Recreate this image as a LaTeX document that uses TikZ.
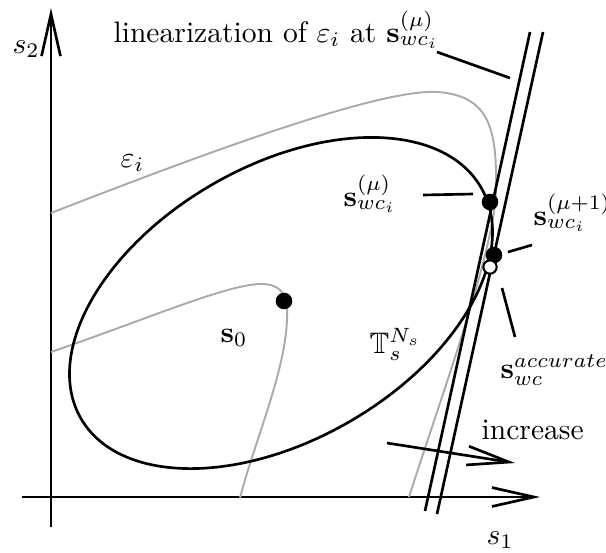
\documentclass[tikz,border=0pt]{standalone}
\usepackage{amsmath,amssymb}
\usetikzlibrary{arrows.meta}
\definecolor{curvegray}{RGB}{170,170,170}
\begin{document}
\begin{tikzpicture}[x=0.338pt,y=-0.338pt,
  blk/.style={line width=0.9pt},
  gry/.style={line width=0.65pt,draw=curvegray},
  arr/.style={blk,-{Straight Barb[length=14.2pt,width=6.4pt]}},
  dot/.style={circle,fill=black,inner sep=0pt,minimum size=5.6pt},
  odot/.style={circle,draw=black,fill=white,line width=0.7pt,inner sep=0pt,minimum size=4.5pt},
  lbl/.style={inner sep=0pt,anchor=base west}]
\useasboundingbox (0,0) rectangle (606,552);
% axes
\coordinate (yb) at (51,527);
\coordinate (yt) at (51,8);
\coordinate (xl) at (22,497);
\coordinate (xr) at (540,497);
\draw[arr] (yb) -- (yt);
\draw[arr] (xl) -- (xr);
% gray level curves
\draw[gry] (51,213) .. controls (200,155) and (380,88) .. (438,92)
  .. controls (490,96) and (497,130) .. (496,190)
  .. controls (495,250) and (440,400) .. (409,497);
\draw[gry] (51,352) .. controls (150,318) and (230,283) .. (263,284)
  .. controls (285,285) and (288,300) .. (287,318)
  .. controls (286,370) and (255,440) .. (240,498);
% tolerance ellipse
\draw[blk, rotate around={30:(281,303)}] (281,303) ellipse [x radius=231, y radius=137];
% linearizations
\coordinate (la1) at (530,32);
\coordinate (la2) at (425,511);
\coordinate (lb1) at (543,32);
\coordinate (lb2) at (437,514);
\draw[blk] (la1) -- (la2);
\draw[blk] (lb1) -- (lb2);
% increase arrow
\coordinate (ia) at (387,443);
\coordinate (ib) at (515,463);
\draw[arr] (ia) -- (ib);
% points
\node[dot] (p0) at (284,301) {};
\node[dot] (pmu) at (490,202) {};
\node[dot] (pmu1) at (494,255) {};
\node[odot] (pacc) at (490,267) {};
% labels
\node[lbl] (title) at (113,42) {linearization of $\varepsilon_i$ at $\mathbf{s}_{wc_i}^{(\mu)}$};
\node[lbl] (s2) at (12,53) {$s_2$};
\node[lbl] (s1) at (486,544) {$s_1$};
\node[lbl] (eps) at (120,167) {$\varepsilon_i$};
\node[lbl] (smu) at (343,206) {$\mathbf{s}_{wc_i}^{(\mu)}$};
\node[lbl] (smu1) at (533,225) {$\mathbf{s}_{wc_i}^{(\mu+1)}$};
\node[lbl] (sacc) at (500,378) {$\mathbf{s}_{wc}^{accurate}$};
\node[lbl] (T) at (369,353) {$\mathbb{T}_s^{N_s}$};
\node[lbl] (s0) at (220,342) {$\mathbf{s}_0$};
\node[lbl] (inc) at (481,439) {increase};
% leader lines
\coordinate (t1) at (437,52);
\coordinate (t2) at (510,78);
\coordinate (m1) at (423,195);
\coordinate (m2) at (473,194);
\coordinate (n1) at (508,252);
\coordinate (n2) at (532,245);
\coordinate (c1) at (502,288);
\coordinate (c2) at (515,337);
\draw[blk] (t1) -- (t2);
\draw[blk] (m1) -- (m2);
\draw[blk] (n1) -- (n2);
\draw[blk] (c1) -- (c2);
\end{tikzpicture}
\end{document}
